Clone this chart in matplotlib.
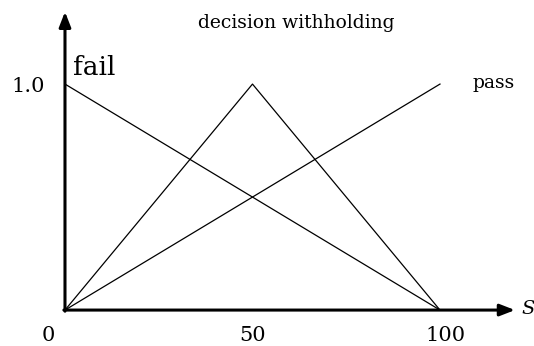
import matplotlib
matplotlib.use("Agg")
import matplotlib.pyplot as plt

# Data
x_fail = [0, 100]
y_fail = [1.0, 0.0]
x_dw = [0, 50, 100]
y_dw = [0.0, 1.0, 0.0]
x_pass = [0, 100]
y_pass = [0.0, 1.0]
xtick_vals = [0, 50, 100]
xtick_labels = ["0", "50", "100"]
ytick_vals = [1.0]
ytick_labels = ["1.0"]

plt.rcParams['font.family'] = ['DejaVu Serif']

fig = plt.figure(figsize=(5.34, 3.46), dpi=100)
ax = fig.add_axes([0, 0, 1, 1])
ax.set_xlim(-17.33, 125.07)
ax.set_ylim(-0.159, 1.372)
ax.axis('off')

lw = 0.9
ax.plot(x_fail, y_fail, color='black', lw=lw)
ax.plot(x_dw, y_dw, color='black', lw=lw)
ax.plot(x_pass, y_pass, color='black', lw=lw)

# Axes arrows
ax.annotate('', xy=(120.0, 0), xytext=(-0.3, 0),
            arrowprops=dict(arrowstyle='-|>,head_length=0.9,head_width=0.35',
                            color='black', lw=2.2, shrinkA=0, shrinkB=0))
ax.annotate('', xy=(0, 1.32), xytext=(0, -0.005),
            arrowprops=dict(arrowstyle='-|>,head_length=0.9,head_width=0.35',
                            color='black', lw=2.2, shrinkA=0, shrinkB=0))

# Tick labels
offsets = [-4.5, -0.1, 1.6]
for v, lab, o in zip(xtick_vals, xtick_labels, offsets):
    ax.text(v + o, -0.111, lab, ha='center', va='center', fontsize=15)
for v, lab in zip(ytick_vals, ytick_labels):
    ax.text(-9.9, v - 0.012, lab, ha='center', va='center', fontsize=15)

ax.text(121.6, 0.005, 'S', ha='left', va='center', fontsize=14, style='italic')
ax.text(2.1, 1.04, 'fail', ha='left', va='baseline', fontsize=19)
ax.text(108.8, 0.982, 'pass', ha='left', va='baseline', fontsize=13.5)
ax.text(61.6, 1.248, 'decision withholding', ha='center', va='baseline', fontsize=13.5)

fig.savefig('out.png', dpi=100)
